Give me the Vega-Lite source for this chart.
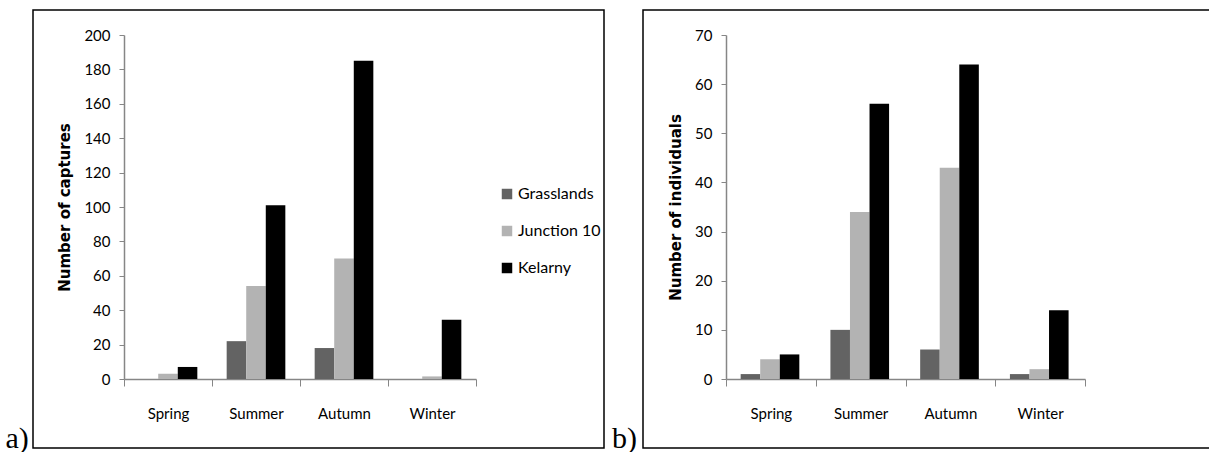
{
  "$schema": "https://vega.github.io/schema/vega-lite/v6.json",
  "padding": {"left": 4, "top": 9, "right": 0, "bottom": 0},
  "spacing": 6,
  "data": {
    "values": [
      {"panel": "a", "season": "Spring", "site": "Grasslands", "value": 0},
      {"panel": "a", "season": "Spring", "site": "Junction 10", "value": 3},
      {"panel": "a", "season": "Spring", "site": "Kelarny", "value": 7},
      {"panel": "a", "season": "Summer", "site": "Grasslands", "value": 22},
      {"panel": "a", "season": "Summer", "site": "Junction 10", "value": 54},
      {"panel": "a", "season": "Summer", "site": "Kelarny", "value": 101},
      {"panel": "a", "season": "Autumn", "site": "Grasslands", "value": 18},
      {"panel": "a", "season": "Autumn", "site": "Junction 10", "value": 70},
      {"panel": "a", "season": "Autumn", "site": "Kelarny", "value": 185},
      {"panel": "a", "season": "Winter", "site": "Grasslands", "value": 0},
      {"panel": "a", "season": "Winter", "site": "Junction 10", "value": 1.5},
      {"panel": "a", "season": "Winter", "site": "Kelarny", "value": 34.5},
      {"panel": "b", "season": "Spring", "site": "Grasslands", "value": 1},
      {"panel": "b", "season": "Spring", "site": "Junction 10", "value": 4},
      {"panel": "b", "season": "Spring", "site": "Kelarny", "value": 5},
      {"panel": "b", "season": "Summer", "site": "Grasslands", "value": 10},
      {"panel": "b", "season": "Summer", "site": "Junction 10", "value": 34},
      {"panel": "b", "season": "Summer", "site": "Kelarny", "value": 56},
      {"panel": "b", "season": "Autumn", "site": "Grasslands", "value": 6},
      {"panel": "b", "season": "Autumn", "site": "Junction 10", "value": 43},
      {"panel": "b", "season": "Autumn", "site": "Kelarny", "value": 64},
      {"panel": "b", "season": "Winter", "site": "Grasslands", "value": 1},
      {"panel": "b", "season": "Winter", "site": "Junction 10", "value": 2},
      {"panel": "b", "season": "Winter", "site": "Kelarny", "value": 14}
    ]
  },
  "config": {
    "view": {"stroke": "black", "strokeWidth": 1.5},
    "font": "Lato",
    "axis": {
      "grid": false,
      "domainColor": "#868686",
      "tickColor": "#868686",
      "domainWidth": 1.5,
      "labelColor": "#000000",
      "labelFont": "Lato",
      "labelFontSize": 15,
      "titleColor": "#000000"
    },
    "legend": {
      "labelFont": "Lato",
      "labelFontSize": 16,
      "labelColor": "#000000",
      "symbolType": "square",
      "symbolSize": 110,
      "symbolStrokeWidth": 0,
      "rowPadding": 21,
      "labelOffset": 3
    }
  },
  "hconcat": [
    {
      "width": 571,
      "height": 438,
      "transform": [{"filter": "datum.panel == 'a'"}],
      "title": {"text": "a)", "orient": "left", "anchor": "start", "angle": 0, "font": "Liberation Serif", "fontSize": 30, "fontWeight": "normal", "offset": -19, "baseline": "alphabetic", "align": "right", "color": "#000000"},
      "mark": {"type": "bar"},
      "encoding": {
        "x": {
          "field": "season", "type": "nominal",
          "sort": ["Spring", "Summer", "Autumn", "Winter"],
          "scale": {"range": [91, 443], "paddingInner": 0, "paddingOuter": 0},
          "axis": {"title": null, "labelAngle": 0, "offset": -69, "tickBand": "extent", "tickSize": 7, "labelPadding": 20}
        },
        "xOffset": {
          "field": "site", "sort": ["Grasslands", "Junction 10", "Kelarny"],
          "scale": {"paddingInner": 0, "paddingOuter": 0.75}
        },
        "y": {
          "field": "value", "type": "quantitative",
          "scale": {"domain": [0, 200], "range": [369, 25], "nice": false},
          "axis": {"title": "Number of captures", "titleFont": "DejaVu Sans", "titleFontSize": 15, "titleFontWeight": "bold", "titlePadding": 11, "values": [0, 20, 40, 60, 80, 100, 120, 140, 160, 180, 200], "offset": -91, "tickSize": 5, "labelPadding": 9}
        },
        "color": {
          "field": "site", "type": "nominal",
          "scale": {"domain": ["Grasslands", "Junction 10", "Kelarny"], "range": ["#636363", "#b3b3b3", "#000000"]},
          "legend": {"title": null, "orient": "none", "legendX": 466, "legendY": 176}
        }
      }
    },
    {
      "width": 571,
      "height": 438,
      "transform": [{"filter": "datum.panel == 'b'"}],
      "title": {"text": "b)", "orient": "left", "anchor": "start", "angle": 0, "font": "Liberation Serif", "fontSize": 30, "fontWeight": "normal", "offset": -19, "baseline": "alphabetic", "align": "right", "color": "#000000"},
      "mark": {"type": "bar"},
      "encoding": {
        "x": {
          "field": "season", "type": "nominal",
          "sort": ["Spring", "Summer", "Autumn", "Winter"],
          "scale": {"range": [83, 442], "paddingInner": 0, "paddingOuter": 0},
          "axis": {"title": null, "labelAngle": 0, "offset": -69, "tickBand": "extent", "tickSize": 7, "labelPadding": 20}
        },
        "xOffset": {
          "field": "site", "sort": ["Grasslands", "Junction 10", "Kelarny"],
          "scale": {"paddingInner": 0, "paddingOuter": 0.75}
        },
        "y": {
          "field": "value", "type": "quantitative",
          "scale": {"domain": [0, 70], "range": [369, 25], "nice": false},
          "axis": {"title": "Number of individuals", "titleFont": "DejaVu Sans", "titleFontSize": 15, "titleFontWeight": "bold", "titlePadding": 11, "values": [0, 10, 20, 30, 40, 50, 60, 70], "offset": -83, "tickSize": 5, "labelPadding": 9}
        },
        "color": {
          "field": "site", "type": "nominal",
          "scale": {"domain": ["Grasslands", "Junction 10", "Kelarny"], "range": ["#636363", "#b3b3b3", "#000000"]},
          "legend": {"title": null, "orient": "none", "legendX": 466, "legendY": 176}
        }
      }
    }
  ]
}
